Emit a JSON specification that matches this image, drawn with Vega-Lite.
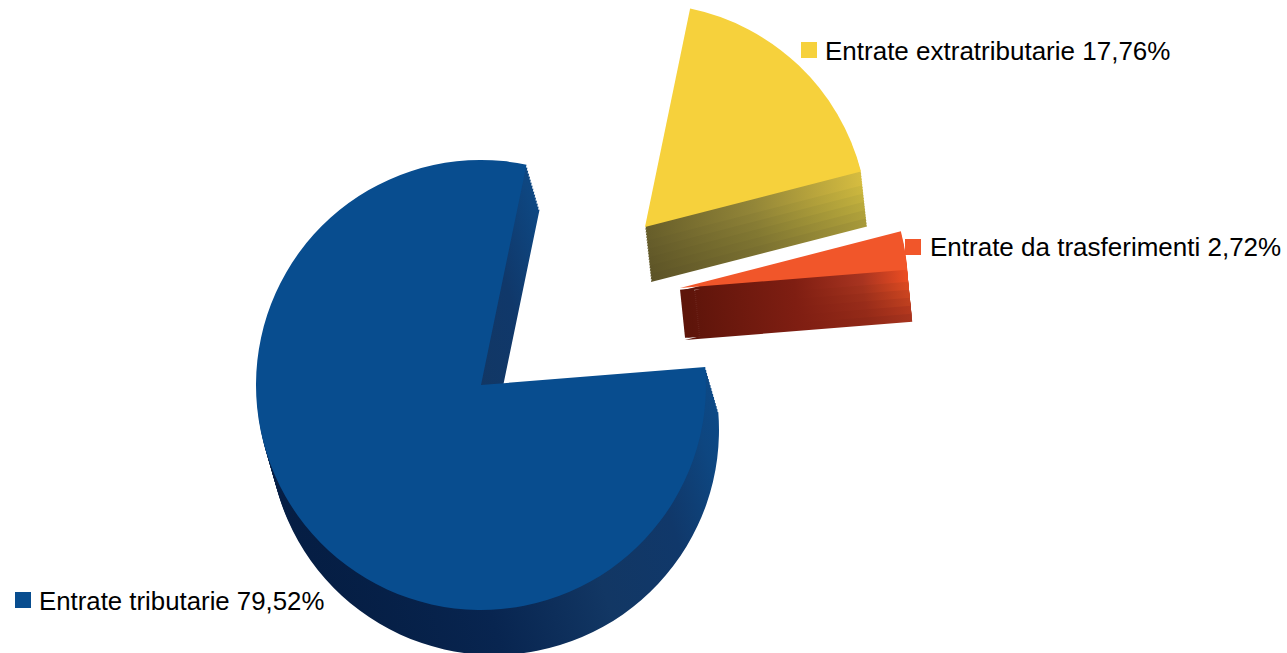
{"$schema":"https://vega.github.io/schema/vega-lite/v6.json","width":1287,"height":653,"padding":0,"autosize":{"type":"none"},"background":"white",
"config":{"view":{"stroke":null}},
"params":[
{"name":"bs","value":{"gradient":"linear","x1":0,"y1":1,"x2":1,"y2":0.3,"stops":[{"offset":0,"color":"#03183a"},{"offset":0.35,"color":"#082550"},{"offset":0.55,"color":"#123764"},{"offset":0.72,"color":"#10386a"},{"offset":0.85,"color":"#0e4680"},{"offset":1,"color":"#0a4c8c"}]}},
{"name":"ys1","value":{"gradient":"linear","x1":0,"y1":0,"x2":1,"y2":0,"stops":[{"offset":0,"color":"#5c5327"},{"offset":0.5,"color":"#7a7030"},{"offset":1,"color":"#a89a3a"}]}},
{"name":"ys2","value":{"gradient":"linear","x1":0,"y1":0,"x2":1,"y2":0,"stops":[{"offset":0,"color":"#5e5527"},{"offset":0.5,"color":"#7e7431"},{"offset":1,"color":"#b1a23b"}]}},
{"name":"ys3","value":{"gradient":"linear","x1":0,"y1":0,"x2":1,"y2":0,"stops":[{"offset":0,"color":"#605728"},{"offset":0.5,"color":"#827832"},{"offset":1,"color":"#baaa3c"}]}},
{"name":"ys4","value":{"gradient":"linear","x1":0,"y1":0,"x2":1,"y2":0,"stops":[{"offset":0,"color":"#625929"},{"offset":0.5,"color":"#877c34"},{"offset":1,"color":"#c3b13d"}]}},
{"name":"ys5","value":{"gradient":"linear","x1":0,"y1":0,"x2":1,"y2":0,"stops":[{"offset":0,"color":"#645b2a"},{"offset":0.5,"color":"#8d8136"},{"offset":1,"color":"#ccb73e"}]}},
{"name":"ys6","value":{"gradient":"linear","x1":0,"y1":0,"x2":1,"y2":0,"stops":[{"offset":0,"color":"#665d2a"},{"offset":0.5,"color":"#938638"},{"offset":1,"color":"#d6bd40"}]}},
{"name":"os1","value":{"gradient":"linear","x1":0,"y1":0,"x2":1,"y2":0,"stops":[{"offset":0,"color":"#5c140a"},{"offset":0.5,"color":"#7f1e12"},{"offset":0.8,"color":"#8f2817"},{"offset":1,"color":"#a8341e"}]}},
{"name":"os2","value":{"gradient":"linear","x1":0,"y1":0,"x2":1,"y2":0,"stops":[{"offset":0,"color":"#5c140a"},{"offset":0.5,"color":"#7f1e12"},{"offset":0.8,"color":"#942a18"},{"offset":1,"color":"#b4381e"}]}},
{"name":"os3","value":{"gradient":"linear","x1":0,"y1":0,"x2":1,"y2":0,"stops":[{"offset":0,"color":"#5c140a"},{"offset":0.5,"color":"#7f1e12"},{"offset":0.8,"color":"#982c1a"},{"offset":1,"color":"#c0401f"}]}},
{"name":"os4","value":{"gradient":"linear","x1":0,"y1":0,"x2":1,"y2":0,"stops":[{"offset":0,"color":"#5c140a"},{"offset":0.5,"color":"#7f1e12"},{"offset":0.8,"color":"#9c2f1b"},{"offset":1,"color":"#cc4520"}]}},
{"name":"os5","value":{"gradient":"linear","x1":0,"y1":0,"x2":1,"y2":0,"stops":[{"offset":0,"color":"#5c140a"},{"offset":0.5,"color":"#7f1e12"},{"offset":0.8,"color":"#a2321d"},{"offset":1,"color":"#dc4a21"}]}},
{"name":"os6","value":{"gradient":"linear","x1":0,"y1":0,"x2":1,"y2":0,"stops":[{"offset":0,"color":"#5c140a"},{"offset":0.5,"color":"#7f1e12"},{"offset":0.8,"color":"#a83420"},{"offset":1,"color":"#ec4d22"}]}}
],
"data":{"values":[{"category":"Entrate tributarie","share":79.52,"label":"Entrate tributarie 79,52%"},{"category":"Entrate extratributarie","share":17.76,"label":"Entrate extratributarie 17,76%"},{"category":"Entrate da trasferimenti","share":2.72,"label":"Entrate da trasferimenti 2,72%"}]},
"transform":[{"stack":"share","as":["start","end"],"sort":[{"field":"share","order":"descending"}]}],
"encoding":{"x":{"field":"share","type":"quantitative","scale":{"domain":[2.72,17.76,79.52],"range":[680,645,481]},"axis":null},"y":{"field":"share","type":"quantitative","scale":{"domain":[2.72,17.76,79.52],"range":[288,227,385]},"axis":null}},
"layer":[
{"transform":[{"filter":"datum.share>50"}],"encoding":{"theta":{"field":"start","type":"quantitative","scale":{"domain":[0,100],"range":[1.4905,7.7737]}},"theta2":{"field":"end"}},"layer":[
{"mark":{"type":"arc","outerRadius":225,"fill":{"expr":"bs"},"xOffset":13,"yOffset":45}},
{"mark":{"type":"arc","outerRadius":225,"fill":{"expr":"bs"},"xOffset":12.1,"yOffset":42}},
{"mark":{"type":"arc","outerRadius":225,"fill":{"expr":"bs"},"xOffset":11.3,"yOffset":39}},
{"mark":{"type":"arc","outerRadius":225,"fill":{"expr":"bs"},"xOffset":10.4,"yOffset":36}},
{"mark":{"type":"arc","outerRadius":225,"fill":{"expr":"bs"},"xOffset":9.5,"yOffset":33}},
{"mark":{"type":"arc","outerRadius":225,"fill":{"expr":"bs"},"xOffset":8.7,"yOffset":30}},
{"mark":{"type":"arc","outerRadius":225,"fill":{"expr":"bs"},"xOffset":7.8,"yOffset":27}},
{"mark":{"type":"arc","outerRadius":225,"fill":{"expr":"bs"},"xOffset":6.9,"yOffset":24}},
{"mark":{"type":"arc","outerRadius":225,"fill":{"expr":"bs"},"xOffset":6.1,"yOffset":21}},
{"mark":{"type":"arc","outerRadius":225,"fill":{"expr":"bs"},"xOffset":5.2,"yOffset":18}},
{"mark":{"type":"arc","outerRadius":225,"fill":{"expr":"bs"},"xOffset":4.3,"yOffset":15}},
{"mark":{"type":"arc","outerRadius":225,"fill":{"expr":"bs"},"xOffset":3.5,"yOffset":12}},
{"mark":{"type":"arc","outerRadius":225,"fill":{"expr":"bs"},"xOffset":2.6,"yOffset":9}},
{"mark":{"type":"arc","outerRadius":225,"fill":{"expr":"bs"},"xOffset":1.7,"yOffset":6}},
{"mark":{"type":"arc","outerRadius":225,"fill":{"expr":"bs"},"xOffset":0.9,"yOffset":3}},
{"mark":{"type":"arc","outerRadius":225,"fill":"#084d8f"}}
]},
{"transform":[{"filter":"datum.share>10 && datum.share<50"}],"encoding":{"theta":{"field":"start","type":"quantitative","scale":{"domain":[0,100],"range":[1.4905,7.7737]}},"theta2":{"field":"end"}},"layer":[
{"mark":{"type":"arc","outerRadius":223,"fill":{"expr":"ys1"},"xOffset":6,"yOffset":55}},
{"mark":{"type":"arc","outerRadius":223,"fill":{"expr":"ys1"},"xOffset":5.7,"yOffset":52.25}},
{"mark":{"type":"arc","outerRadius":223,"fill":{"expr":"ys1"},"xOffset":5.4,"yOffset":49.5}},
{"mark":{"type":"arc","outerRadius":223,"fill":{"expr":"ys2"},"xOffset":5.1,"yOffset":46.75}},
{"mark":{"type":"arc","outerRadius":223,"fill":{"expr":"ys2"},"xOffset":4.8,"yOffset":44}},
{"mark":{"type":"arc","outerRadius":223,"fill":{"expr":"ys2"},"xOffset":4.5,"yOffset":41.25}},
{"mark":{"type":"arc","outerRadius":223,"fill":{"expr":"ys3"},"xOffset":4.2,"yOffset":38.5}},
{"mark":{"type":"arc","outerRadius":223,"fill":{"expr":"ys3"},"xOffset":3.9,"yOffset":35.75}},
{"mark":{"type":"arc","outerRadius":223,"fill":{"expr":"ys3"},"xOffset":3.6,"yOffset":33}},
{"mark":{"type":"arc","outerRadius":223,"fill":{"expr":"ys4"},"xOffset":3.3,"yOffset":30.25}},
{"mark":{"type":"arc","outerRadius":223,"fill":{"expr":"ys4"},"xOffset":3,"yOffset":27.5}},
{"mark":{"type":"arc","outerRadius":223,"fill":{"expr":"ys4"},"xOffset":2.7,"yOffset":24.75}},
{"mark":{"type":"arc","outerRadius":223,"fill":{"expr":"ys5"},"xOffset":2.4,"yOffset":22}},
{"mark":{"type":"arc","outerRadius":223,"fill":{"expr":"ys5"},"xOffset":2.1,"yOffset":19.25}},
{"mark":{"type":"arc","outerRadius":223,"fill":{"expr":"ys5"},"xOffset":1.8,"yOffset":16.5}},
{"mark":{"type":"arc","outerRadius":223,"fill":{"expr":"ys6"},"xOffset":1.5,"yOffset":13.75}},
{"mark":{"type":"arc","outerRadius":223,"fill":{"expr":"ys6"},"xOffset":1.2,"yOffset":11}},
{"mark":{"type":"arc","outerRadius":223,"fill":{"expr":"ys6"},"xOffset":0.9,"yOffset":8.25}},
{"mark":{"type":"arc","outerRadius":223,"fill":{"expr":"ys6"},"xOffset":0.6,"yOffset":5.5}},
{"mark":{"type":"arc","outerRadius":223,"fill":{"expr":"ys6"},"xOffset":0.3,"yOffset":2.75}},
{"mark":{"type":"arc","outerRadius":223,"fill":"#f6d13c"}}
]},
{"transform":[{"filter":"datum.share<10"}],"mark":{"type":"rule","color":"#5e150a","strokeWidth":14,"xOffset":7,"x2Offset":12,"yOffset":1,"y2Offset":49},"encoding":{"x2":{"field":"share"},"y2":{"field":"share"}}},
{"transform":[{"filter":"datum.share<10"}],"encoding":{"theta":{"field":"start","type":"quantitative","scale":{"domain":[0,100],"range":[1.4905,7.7737]}},"theta2":{"field":"end"}},"layer":[
{"mark":{"type":"arc","outerRadius":228,"fill":{"expr":"os1"},"xOffset":5,"yOffset":52}},
{"mark":{"type":"arc","outerRadius":228,"fill":{"expr":"os1"},"xOffset":4.8,"yOffset":50}},
{"mark":{"type":"arc","outerRadius":228,"fill":{"expr":"os1"},"xOffset":4.6,"yOffset":48}},
{"mark":{"type":"arc","outerRadius":228,"fill":{"expr":"os1"},"xOffset":4.4,"yOffset":46}},
{"mark":{"type":"arc","outerRadius":228,"fill":{"expr":"os2"},"xOffset":4.2,"yOffset":44}},
{"mark":{"type":"arc","outerRadius":228,"fill":{"expr":"os2"},"xOffset":4,"yOffset":42}},
{"mark":{"type":"arc","outerRadius":228,"fill":{"expr":"os2"},"xOffset":3.8,"yOffset":40}},
{"mark":{"type":"arc","outerRadius":228,"fill":{"expr":"os2"},"xOffset":3.6,"yOffset":38}},
{"mark":{"type":"arc","outerRadius":228,"fill":{"expr":"os3"},"xOffset":3.4,"yOffset":36}},
{"mark":{"type":"arc","outerRadius":228,"fill":{"expr":"os3"},"xOffset":3.2,"yOffset":34}},
{"mark":{"type":"arc","outerRadius":228,"fill":{"expr":"os3"},"xOffset":3,"yOffset":32}},
{"mark":{"type":"arc","outerRadius":228,"fill":{"expr":"os3"},"xOffset":2.8,"yOffset":30}},
{"mark":{"type":"arc","outerRadius":228,"fill":{"expr":"os4"},"xOffset":2.6,"yOffset":28}},
{"mark":{"type":"arc","outerRadius":228,"fill":{"expr":"os4"},"xOffset":2.4,"yOffset":26}},
{"mark":{"type":"arc","outerRadius":228,"fill":{"expr":"os4"},"xOffset":2.2,"yOffset":24}},
{"mark":{"type":"arc","outerRadius":228,"fill":{"expr":"os4"},"xOffset":2,"yOffset":22}},
{"mark":{"type":"arc","outerRadius":228,"fill":{"expr":"os5"},"xOffset":1.8,"yOffset":20}},
{"mark":{"type":"arc","outerRadius":228,"fill":{"expr":"os5"},"xOffset":1.6,"yOffset":18}},
{"mark":{"type":"arc","outerRadius":228,"fill":{"expr":"os5"},"xOffset":1.4,"yOffset":16}},
{"mark":{"type":"arc","outerRadius":228,"fill":{"expr":"os5"},"xOffset":1.2,"yOffset":14}},
{"mark":{"type":"arc","outerRadius":228,"fill":{"expr":"os6"},"xOffset":1,"yOffset":12}},
{"mark":{"type":"arc","outerRadius":228,"fill":{"expr":"os6"},"xOffset":0.8,"yOffset":10}},
{"mark":{"type":"arc","outerRadius":228,"fill":{"expr":"os6"},"xOffset":0.6,"yOffset":8}},
{"mark":{"type":"arc","outerRadius":228,"fill":{"expr":"os6"},"xOffset":0.4,"yOffset":6}},
{"mark":{"type":"arc","outerRadius":228,"fill":{"expr":"os6"},"xOffset":0.2,"yOffset":3}},
{"mark":{"type":"arc","outerRadius":228,"fill":"#f1562a"}}
]},
{"transform":[{"filter":"datum.share>50"}],"layer":[
{"mark":{"type":"point","shape":"square","filled":true,"size":256,"opacity":1,"color":"#084d8f","xOffset":-458,"yOffset":215}},
{"mark":{"type":"text","align":"left","baseline":"middle","font":"Liberation Sans","fontSize":25.8,"color":"#000","xOffset":-442,"yOffset":217},"encoding":{"text":{"field":"label"}}}
]},
{"transform":[{"filter":"datum.share>10 && datum.share<50"}],"layer":[
{"mark":{"type":"point","shape":"square","filled":true,"size":256,"opacity":1,"color":"#f6d13c","xOffset":164,"yOffset":-177}},
{"mark":{"type":"text","align":"left","baseline":"middle","font":"Liberation Sans","fontSize":26,"color":"#000","xOffset":180,"yOffset":-175},"encoding":{"text":{"field":"label"}}}
]},
{"transform":[{"filter":"datum.share<10"}],"layer":[
{"mark":{"type":"point","shape":"square","filled":true,"size":256,"opacity":1,"color":"#f1562a","xOffset":233,"yOffset":-41}},
{"mark":{"type":"text","align":"left","baseline":"middle","font":"Liberation Sans","fontSize":26,"color":"#000","xOffset":250,"yOffset":-40},"encoding":{"text":{"field":"label"}}}
]}
]}
